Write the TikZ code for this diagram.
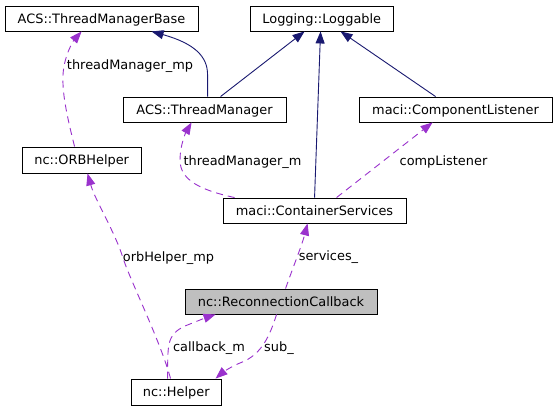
\documentclass[tikz,border=0pt]{standalone}
\usepackage{fontspec}
\setmainfont{DejaVu Sans}
\usetikzlibrary{arrows.meta,calc}
\definecolor{inh}{HTML}{191970}
\definecolor{use}{HTML}{9A32CD}
\definecolor{boxgray}{HTML}{BFBFBF}
\begin{document}
\begin{tikzpicture}[x=1pt,y=-1pt,
  font=\fontsize{12.9pt}{15pt}\selectfont,
  box/.style={draw=black, line width=0.9pt, fill=white, inner sep=0pt, minimum height=25pt, text height=9.4pt, text depth=0pt},
  inhedge/.style={draw=inh, line width=0.9pt, -{Triangle[length=12pt,width=9pt]}, inh},
  useedge/.style={draw=use, line width=0.9pt, dash pattern=on 7pt off 5pt, -{Triangle[length=12pt,width=9pt]}, use},
  lbl/.style={anchor=base, inner sep=0pt, text=black}]
\useasboundingbox (0,0) rectangle (556,411);
\fill[white] (0,0) rectangle (556,411);
% nodes
\node[box, minimum width=193pt] (TMB) at (101.5,18.5) {ACS::ThreadManagerBase};
\node[box, minimum width=142.5pt] (LOG) at (321.75,18.5) {Logging::Loggable};
\node[box, minimum width=163pt] (TM) at (204.5,109.5) {ACS::ThreadManager};
\node[box, minimum width=193pt] (CL) at (455.5,109.5) {maci::ComponentListener};
\node[box, minimum width=119.5pt, minimum height=26pt] (ORB) at (81.75,160) {nc::ORBHelper};
\node[box, minimum width=183pt] (CS) at (314.5,210.5) {maci::ContainerServices};
\node[box, minimum width=192pt, fill=boxgray] (RC) at (281,301.5) {nc::ReconnectionCallback};
\node[box, minimum width=90.5pt, minimum height=26pt] (H) at (176.25,392) {nc::Helper};
% inheritance edges
\draw[inhedge] ($(TM.north west)+(85,0)$) -- ($(TM.north west)+(85,-22)$)
  .. controls ($(TM.north west)+(85,-40)$) and ($(TMB.south west)+(190,12)$) .. ($(TMB.south west)+(147,0)$);
\draw[inhedge] ($(TM.north west)+(98,0)$) -- ($(LOG.south west)+(54.5,0)$);
\draw[inhedge] ($(CS.north west)+(92,0)$) -- ($(LOG.south west)+(70.5,0)$);
\draw[inhedge] ($(CL.north west)+(77,0)$) -- ($(LOG.south west)+(90.5,0)$);
% usage edges
\draw[useedge] ($(CS.north west)+(12,0)$) .. controls (200,190) and (180,180) .. (180,160)
  .. controls (180,145) and (186,132) .. ($(TM.south west)+(69,0)$);
\draw[useedge] ($(CS.north west)+(114,0)$) -- ($(CL.south west)+(74,0)$);
\draw[useedge] ($(ORB.north west)+(53,0)$) .. controls (68,120) and (62,95) .. (63,75)
  .. controls (64,55) and (74,40) .. ($(TMB.south west)+(77,0)$);
\draw[useedge] ($(H.north west)+(40,0)$) .. controls (160,340) and (130,280) .. (123,258)
  .. controls (115,232) and (95,200) .. ($(ORB.south west)+(66,0)$);
\draw[useedge] ($(RC.north west)+(101,0)$) .. controls (292,270) and (302,245) .. ($(CS.south west)+(85,0)$);
\draw[useedge] ($(H.north west)+(37,0)$) .. controls (168,345) and (166,335) .. (185,326)
  .. controls (195,322) and (205,318) .. ($(RC.south west)+(31,0)$);
\draw[useedge] ($(RC.south west)+(92,0)$) .. controls (270,335) and (262,355) .. (240,363)
  .. controls (232,366) and (222,373) .. ($(H.north west)+(85,0)$);
% labels
\node[lbl] (l1) at (130,69.5) {threadManager\_mp};
\node[lbl] (l2) at (242.5,165.5) {threadManager\_m};
\node[lbl] (l3) at (443.5,165.5) {compListener};
\node[lbl] (l4) at (168.5,261.5) {orbHelper\_mp};
\node[lbl] (l5) at (328.5,261) {services\_};
\node[lbl] (l6) at (209,351.5) {callback\_m};
\node[lbl] (l7) at (279,351) {sub\_};
\end{tikzpicture}
\end{document}
